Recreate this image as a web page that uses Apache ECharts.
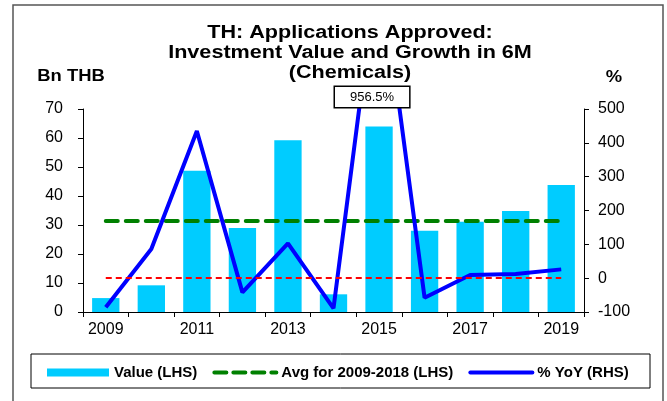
<!DOCTYPE html>
<html>
<head>
<meta charset="utf-8">
<script src="https://cdn.jsdelivr.net/npm/echarts@6/dist/echarts.min.js"></script>
<style>
  html, body { margin: 0; padding: 0; background: #fff; }
  #chart { width: 667px; height: 401px; }
</style>
</head>
<body>
<div id="chart"></div>
<script>
// data
const years = ['2009','2010','2011','2012','2013','2014','2015','2016','2017','2018','2019'];
const valueLhs = [4.8, 9.2, 48.7, 29.0, 59.2, 6.1, 64.0, 28.0, 31.1, 34.8, 43.8];
const avgLhs = [31.4, 31.4, 31.4, 31.4, 31.4, 31.4, 31.4, 31.4, 31.4, 31.4, 31.4];
const yoyRhs = [-86, 86, 435, -42, 103, -89, 956.5, -58, 9.5, 12.4, 26];
const peakYear = '2015';
const peakValue = 956.5;

const font = 'Liberation Sans, Arial, sans-serif';
const chart = echarts.init(document.getElementById('chart'));

const legendText = (w) => ({ width: w, fontFamily: font, fontWeight: 'bold', fontSize: 15, color: '#000' });

const option = {
    animation: false,
    backgroundColor: '#fff',
    grid: { left: 83, right: 83, top: 109, bottom: 89 },
    graphic: [
        { type: 'rect', shape: { x: 13, y: 5, width: 650, height: 410 },
          style: { fill: 'none', stroke: '#555', lineWidth: 1.5 } },
        { type: 'rect', shape: { x: 31, y: 354, width: 619, height: 34 },
          style: { fill: 'none', stroke: '#000', lineWidth: 1 } },
        { type: 'text', x: 350, y: 23, scaleX: 1.2,
          style: { text: 'TH: Applications Approved:\nInvestment Value and Growth in 6M\n(Chemicals)',
                   font: 'bold 18px ' + font, fill: '#000', textAlign: 'center', lineHeight: 20 } },
        { type: 'text', x: 71, y: 69, scaleX: 1.15,
          style: { text: 'Bn THB', font: 'bold 16px ' + font, fill: '#000', textAlign: 'center' } },
        { type: 'text', x: 614, y: 70, scaleX: 1.15,
          style: { text: '%', font: 'bold 16px ' + font, fill: '#000', textAlign: 'center' } }
    ],
    legend: {
        left: 47, top: 365, padding: 0,
        itemWidth: 62, itemHeight: 8, itemGap: 15,
        data: [
            { name: 'Value (LHS)', icon: 'rect', textStyle: legendText(87) },
            { name: 'Avg for 2009-2018 (LHS)', textStyle: legendText(178),
              itemStyle: { opacity: 0 },
              lineStyle: { color: '#008000', width: 4, type: [12, 7], cap: 'round' } },
            { name: '% YoY (RHS)', textStyle: legendText(94),
              itemStyle: { opacity: 0 },
              lineStyle: { color: '#0000ff', width: 4, cap: 'round' } }
        ]
    },
    xAxis: {
        type: 'category',
        data: years,
        boundaryGap: true,
        axisLine: { lineStyle: { color: '#000', width: 1 } },
        axisTick: { show: true, length: 5, interval: 0, lineStyle: { color: '#000' } },
        axisLabel: { interval: 1, margin: 10, fontFamily: font, fontSize: 16, color: '#000' }
    },
    yAxis: [
        {
            type: 'value', min: 0, max: 70, interval: 10,
            axisLine: { show: true, lineStyle: { color: '#000' } },
            axisTick: { show: true, length: 5, lineStyle: { color: '#000' } },
            axisLabel: { margin: 20, fontFamily: font, fontSize: 16, color: '#000' },
            splitLine: { show: false }
        },
        {
            type: 'value', min: -100, max: 500, interval: 100,
            axisLine: { show: true, lineStyle: { color: '#000' } },
            axisTick: { show: true, length: 5, lineStyle: { color: '#000' } },
            axisLabel: { margin: 14, fontFamily: font, fontSize: 16, color: '#000' },
            splitLine: { show: false }
        }
    ],
    series: [
        {
            name: 'Value (LHS)', type: 'bar', yAxisIndex: 0,
            data: valueLhs, barCategoryGap: '40%',
            itemStyle: { color: '#00ccff' }
        },
        {
            name: 'Avg for 2009-2018 (LHS)', type: 'line', yAxisIndex: 0,
            data: avgLhs, symbol: 'none',
            lineStyle: { color: '#008000', width: 4, type: [12, 8], cap: 'round' },
            itemStyle: { color: '#008000' }
        },
        {
            name: '% YoY (RHS)', type: 'line', yAxisIndex: 1,
            data: yoyRhs, symbol: 'none', clip: true,
            lineStyle: { color: '#0000ff', width: 4 },
            itemStyle: { color: '#0000ff' },
            markLine: {
                silent: true, symbol: 'none',
                label: { show: false },
                lineStyle: { color: '#ff0000', width: 2, type: [6, 4] },
                data: [[{ coord: [years[0], 0] }, { coord: [years[years.length - 1], 0] }]]
            },
            markPoint: {
                symbol: 'rect', symbolSize: 1,
                itemStyle: { color: 'rgba(0,0,0,0)' },
                label: {
                    show: true, position: 'inside', offset: [-7, -12],
                    formatter: peakValue + '%',
                    fontFamily: font, fontSize: 13, color: '#000',
                    backgroundColor: '#fff', borderColor: '#000', borderWidth: 1.5,
                    padding: [4, 15, 3, 15]
                },
                data: [{ coord: [peakYear, 500] }]
            }
        }
    ]
};

chart.setOption(option);
</script>
</body>
</html>
